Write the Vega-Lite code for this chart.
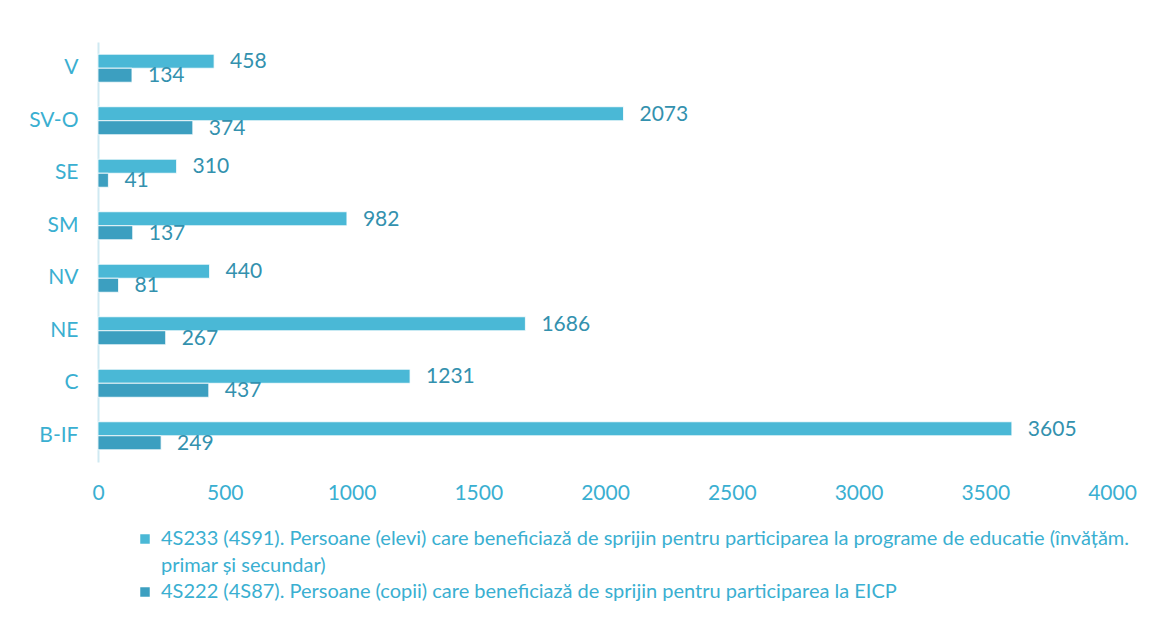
{
  "$schema": "https://vega.github.io/schema/vega-lite/v6.json",
  "autosize": {"type": "none"},
  "padding": {"left": 98, "top": 42, "right": 41, "bottom": 175},
  "width": 1014,
  "height": 420,
  "background": "white",
  "data": {"values": [
    {"regiune": "V", "serie": "4S233", "valoare": 458},
    {"regiune": "V", "serie": "4S222", "valoare": 134},
    {"regiune": "SV-O", "serie": "4S233", "valoare": 2073},
    {"regiune": "SV-O", "serie": "4S222", "valoare": 374},
    {"regiune": "SE", "serie": "4S233", "valoare": 310},
    {"regiune": "SE", "serie": "4S222", "valoare": 41},
    {"regiune": "SM", "serie": "4S233", "valoare": 982},
    {"regiune": "SM", "serie": "4S222", "valoare": 137},
    {"regiune": "NV", "serie": "4S233", "valoare": 440},
    {"regiune": "NV", "serie": "4S222", "valoare": 81},
    {"regiune": "NE", "serie": "4S233", "valoare": 1686},
    {"regiune": "NE", "serie": "4S222", "valoare": 267},
    {"regiune": "C", "serie": "4S233", "valoare": 1231},
    {"regiune": "C", "serie": "4S222", "valoare": 437},
    {"regiune": "B-IF", "serie": "4S233", "valoare": 3605},
    {"regiune": "B-IF", "serie": "4S222", "valoare": 249}
  ]},
  "encoding": {
    "y": {
      "field": "regiune", "type": "nominal",
      "sort": ["V", "SV-O", "SE", "SM", "NV", "NE", "C", "B-IF"],
      "scale": {"paddingInner": 0.467, "paddingOuter": 0.233},
      "axis": {"title": null, "ticks": false, "domainColor": "#cfe9f2", "domainWidth": 2, "labelColor": "#3aafd1", "labelFontSize": 21, "labelPadding": 20, "labelFont": "Lato"}
    },
    "yOffset": {"field": "serie", "type": "nominal", "sort": ["4S233", "4S222"], "scale": {"domain": ["4S233", "4S222"], "paddingInner": 0, "paddingOuter": 0}},
    "x": {
      "field": "valoare", "type": "quantitative",
      "scale": {"domain": [0, 4000]},
      "axis": {"title": null, "format": "d", "values": [0, 500, 1000, 1500, 2000, 2500, 3000, 3500, 4000], "grid": false, "ticks": false, "domain": false, "labelColor": "#3aafd1", "labelFontSize": 21, "labelPadding": 20, "labelFont": "Lato", "labelFlush": false}
    }
  },
  "layer": [
    {
      "mark": {"type": "bar", "stroke": "white", "strokeWidth": 0.8},
      "encoding": {
        "color": {
          "field": "serie", "type": "nominal",
          "scale": {"domain": ["4S233", "4S233b", "4S222"], "range": ["#4ab8d6", "#ffffff", "#3c9fc0"]},
          "legend": {
            "title": null,
            "orient": "none",
            "legendX": 37,
            "legendY": 487,
            "direction": "vertical",
            "padding": 0,
            "symbolType": "square",
            "symbolSize": 90,
            "symbolStrokeWidth": 0,
            "labelFont": "Lato",
            "labelFontSize": 20,
            "labelColor": "#3aafd1",
            "labelLimit": 1100,
            "labelOffset": 6,
            "rowPadding": 6.5,
            "labelExpr": "datum.label == '4S233' ? '4S233 (4S91). Persoane (elevi) care beneficiază de sprijin pentru participarea la programe de educatie (învățăm.' : datum.label == '4S233b' ? 'primar și secundar)' : '4S222 (4S87). Persoane (copii) care beneficiază de sprijin pentru participarea la EICP'"
          }
        }
      }
    },
    {
      "mark": {"type": "text", "align": "left", "baseline": "middle", "dx": 16, "dy": 1, "font": "Lato", "fontSize": 21, "color": "#3391ae"},
      "encoding": {"text": {"field": "valoare", "type": "quantitative"}}
    }
  ],
  "config": {"view": {"stroke": null}}
}
